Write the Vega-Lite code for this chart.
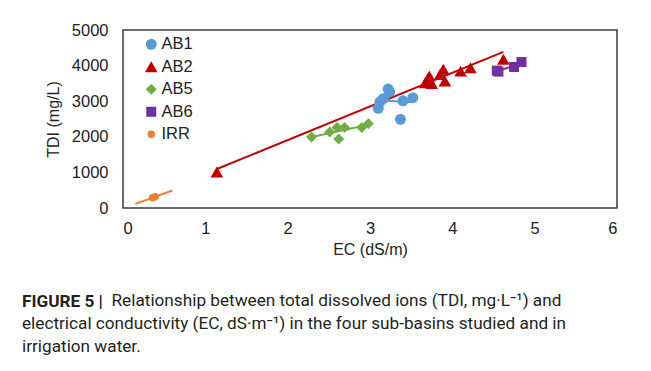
{
  "$schema": "https://vega.github.io/schema/vega-lite/v6.json",
  "width": 494,
  "height": 178,
  "autosize": {"type": "none"},
  "padding": {"left": 123, "top": 30, "right": 34, "bottom": 163},
  "background": "white",
  "title": {
    "text": "FIGURE 5 |",
    "subtitle": [
      "\u2060\u00a0\u00a0\u00a0\u00a0\u00a0\u00a0\u00a0\u00a0\u00a0\u00a0\u00a0\u00a0\u00a0\u00a0\u00a0\u00a0\u00a0\u00a0\u00a0\u00a0\u00a0Relationship between total dissolved ions (TDI, mg·L⁻¹) and",
      "electrical conductivity (EC, dS·m⁻¹) in the four sub-basins studied and in",
      "irrigation water."
    ],
    "orient": "bottom",
    "anchor": "start",
    "frame": "group",
    "dx": -101,
    "offset": 35,
    "font": "Roboto",
    "fontSize": 17.2,
    "fontWeight": "bold",
    "color": "#231f20",
    "subtitleFont": "Roboto",
    "subtitleFontSize": 17.2,
    "subtitleFontWeight": "normal",
    "subtitleColor": "#231f20",
    "subtitleLineHeight": 23,
    "subtitlePadding": -18
  },
  "data": {
    "values": [
      {"series": "AB1", "EC": 3.10, "TDI": 2800},
      {"series": "AB1", "EC": 3.12, "TDI": 2980},
      {"series": "AB1", "EC": 3.16, "TDI": 3070},
      {"series": "AB1", "EC": 3.22, "TDI": 3340},
      {"series": "AB1", "EC": 3.24, "TDI": 3260},
      {"series": "AB1", "EC": 3.40, "TDI": 3010},
      {"series": "AB1", "EC": 3.52, "TDI": 3100},
      {"series": "AB1", "EC": 3.37, "TDI": 2490},
      {"series": "AB2", "EC": 1.14, "TDI": 1010},
      {"series": "AB2", "EC": 3.67, "TDI": 3520},
      {"series": "AB2", "EC": 3.70, "TDI": 3620},
      {"series": "AB2", "EC": 3.72, "TDI": 3710},
      {"series": "AB2", "EC": 3.75, "TDI": 3500},
      {"series": "AB2", "EC": 3.85, "TDI": 3750},
      {"series": "AB2", "EC": 3.89, "TDI": 3900},
      {"series": "AB2", "EC": 3.91, "TDI": 3570},
      {"series": "AB2", "EC": 4.10, "TDI": 3845},
      {"series": "AB2", "EC": 4.22, "TDI": 3940},
      {"series": "AB2", "EC": 4.62, "TDI": 4180},
      {"series": "AB5", "EC": 2.29, "TDI": 1995},
      {"series": "AB5", "EC": 2.51, "TDI": 2135},
      {"series": "AB5", "EC": 2.60, "TDI": 2260},
      {"series": "AB5", "EC": 2.69, "TDI": 2260},
      {"series": "AB5", "EC": 2.62, "TDI": 1940},
      {"series": "AB5", "EC": 2.90, "TDI": 2260},
      {"series": "AB5", "EC": 2.98, "TDI": 2370},
      {"series": "AB6", "EC": 4.54, "TDI": 3860},
      {"series": "AB6", "EC": 4.56, "TDI": 3830},
      {"series": "AB6", "EC": 4.75, "TDI": 3960},
      {"series": "AB6", "EC": 4.84, "TDI": 4100},
      {"series": "IRR", "EC": 0.36, "TDI": 290},
      {"series": "IRR", "EC": 0.39, "TDI": 315}
    ]
  },
  "encoding": {
    "x": {
      "field": "EC", "type": "quantitative",
      "scale": {"domain": [0, 6], "nice": false, "zero": false},
      "axis": {"title": "EC (dS/m)", "values": [0, 1, 2, 3, 4, 5, 6], "format": "d", "labelOverlap": false, "ticks": false, "domain": false, "grid": false, "labelPadding": 12, "titlePadding": 5,
        "labelFont": "Liberation Sans", "labelFontSize": 16.5, "labelColor": "#222", "titleFont": "Liberation Sans", "titleFontSize": 16, "titleFontWeight": "normal", "titleColor": "#222"}
    },
    "y": {
      "field": "TDI", "type": "quantitative",
      "scale": {"domain": [0, 5000], "nice": false},
      "axis": {"title": "TDI (mg/L)", "values": [0, 1000, 2000, 3000, 4000, 5000], "format": "d", "labelOverlap": false, "ticks": false, "domain": false, "grid": false, "labelPadding": 15, "titlePadding": 10,
        "labelFont": "Liberation Sans", "labelFontSize": 16.5, "labelColor": "#222", "titleFont": "Liberation Sans", "titleFontSize": 16, "titleFontWeight": "normal", "titleColor": "#222"}
    }
  },
  "layer": [
    {
      "transform": [
        {"filter": "datum.series !== 'IRR'"},
        {"regression": "TDI", "on": "EC", "groupby": ["series"]}
      ],
      "mark": {"type": "line", "strokeWidth": 2},
      "encoding": {
        "detail": {"field": "series"},
        "color": {"field": "series", "type": "nominal"}
      }
    },
    {
      "transform": [
        {"filter": "datum.series === 'IRR'"},
        {"regression": "TDI", "on": "EC", "extent": [0.15, 0.6]}
      ],
      "mark": {"type": "line", "strokeWidth": 2, "color": "#ED7D31"},
      "encoding": {}
    },
    {
      "mark": {"type": "point", "filled": true, "opacity": 1},
      "encoding": {
        "color": {
          "field": "series", "type": "nominal",
          "scale": {"domain": ["AB1", "AB2", "AB5", "AB6", "IRR"], "range": ["#5B9BD5", "#C00000", "#70AD47", "#7030A0", "#ED7D31"]},
          "legend": {"title": null}
        },
        "shape": {
          "field": "series", "type": "nominal",
          "scale": {"domain": ["AB1", "AB2", "AB5", "AB6", "IRR"], "range": ["circle", "triangle-up", "diamond", "square", "circle"]},
          "legend": {"title": null}
        },
        "size": {
          "field": "series", "type": "nominal",
          "scale": {"type": "ordinal", "domain": ["AB1", "AB2", "AB5", "AB6", "IRR"], "range": [121, 160, 120, 100, 55]},
          "legend": {"title": null}
        }
      }
    }
  ],
  "config": {
    "view": {"stroke": "#3a3a3a", "strokeWidth": 1.5},
    "legend": {
      "orient": "none",
      "legendX": 20,
      "legendY": 6,
      "labelFont": "Liberation Sans",
      "labelFontSize": 16.5,
      "labelColor": "#222",
      "rowPadding": 5.5,
      "labelOffset": 2,
      "symbolStrokeWidth": 0
    }
  }
}
